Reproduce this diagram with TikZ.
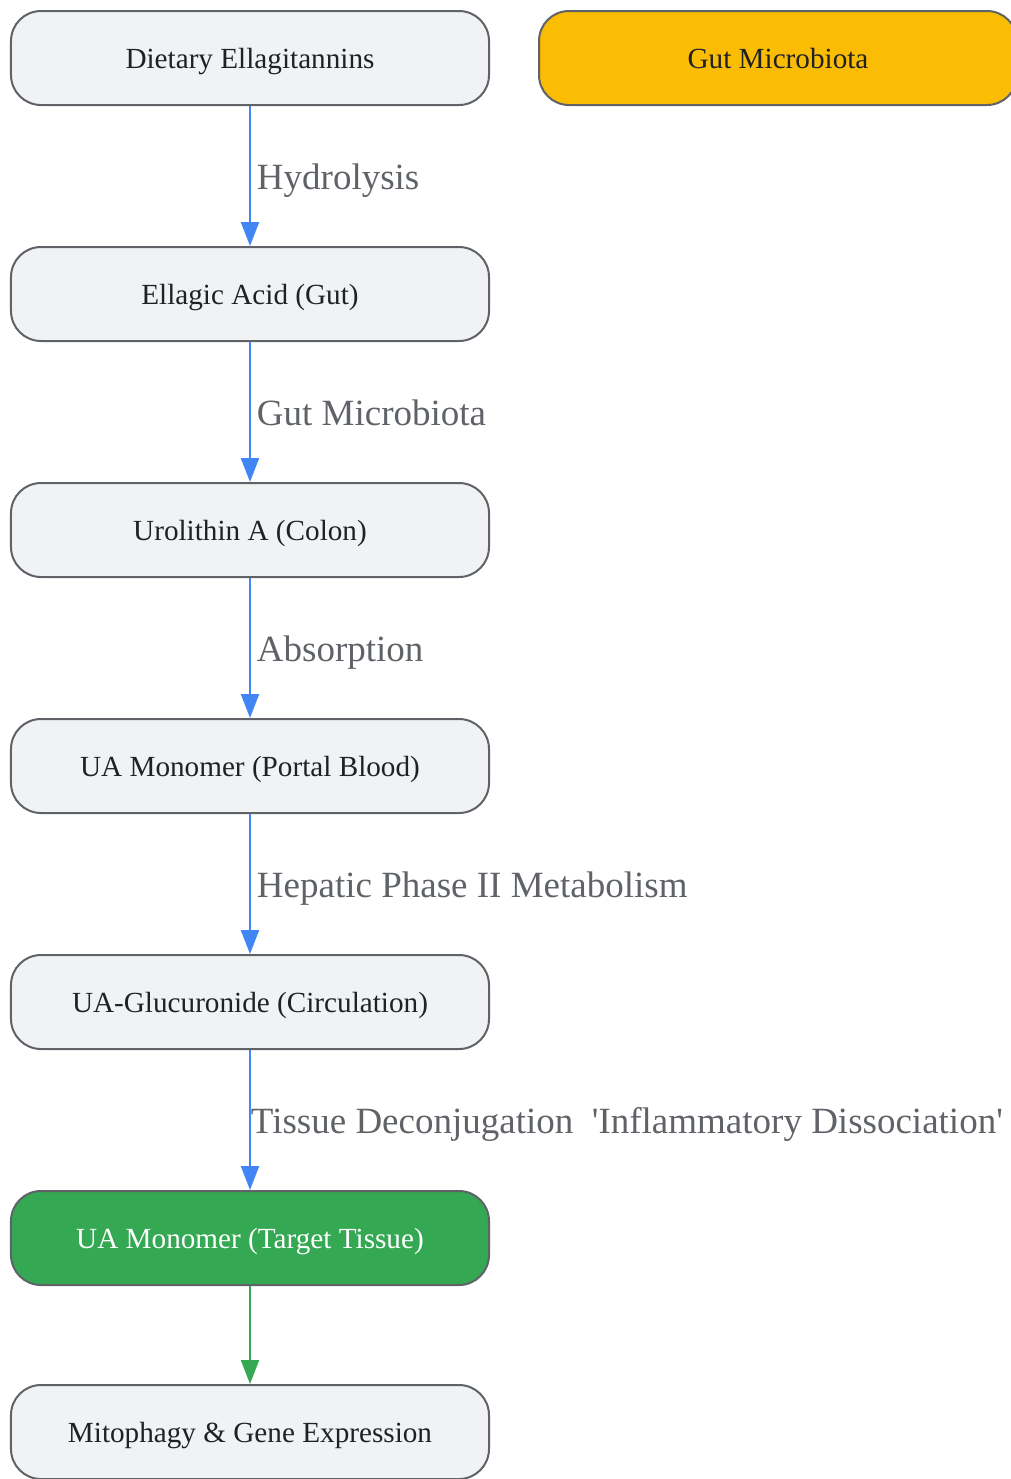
\documentclass[tikz,border=0pt]{standalone}
\usepackage{fontspec}
\setmainfont{Liberation Serif}
\definecolor{boxgray}{RGB}{241, 242, 244}
\definecolor{edgegray}{RGB}{95, 99, 104}
\definecolor{textdark}{RGB}{32, 33, 36}
\definecolor{yellow1}{RGB}{251, 188, 4}
\definecolor{green1}{RGB}{52, 168, 83}
\definecolor{blue1}{RGB}{66, 133, 244}
\usetikzlibrary{shapes, arrows.meta, positioning, calc}

\begin{document}
\begin{tikzpicture}[
  stage/.style={draw=edgegray, line width=1pt, fill=boxgray, rounded corners=15pt, minimum width=239pt, minimum height=47pt, text height=13pt, text depth=2.3pt, text=textdark, font=\fontsize{14.6}{17}\selectfont},
  flow/.style={draw=blue1, line width=1pt, -{Triangle[length=12pt, width=9pt]}},
  steplabel/.style={anchor=base west, text=edgegray, font=\fontsize{18.5}{22}\selectfont, inner sep=0pt, xshift=3pt, yshift=-6.65pt}
]
  \useasboundingbox (-125pt,29pt) rectangle (380.5pt,-710.5pt);

  \node[stage] (diet) at (0,0) {Dietary Ellagitannins};
  \node[stage, fill=yellow1, right=24pt of diet] (microbes) {Gut Microbiota};
  \node[stage, below=70pt of diet] (ellagic) {Ellagic Acid (Gut)};
  \node[stage, below=70pt of ellagic] (colon) {Urolithin A (Colon)};
  \node[stage, below=70pt of colon] (portal) {UA Monomer (Portal Blood)};
  \node[stage, below=70pt of portal] (glucuronide) {UA-Glucuronide (Circulation)};
  \node[stage, fill=green1, text=white, below=70pt of glucuronide] (tissue) {UA Monomer (Target Tissue)};
  \node[stage, below=49pt of tissue] (mitophagy) {Mitophagy \& Gene Expression};

  \draw[flow] (diet) -- node[steplabel] {Hydrolysis} (ellagic);
  \draw[flow] (ellagic) -- node[steplabel] {Gut Microbiota} (colon);
  \draw[flow] (colon) -- node[steplabel] {Absorption} (portal);
  \draw[flow] (portal) -- node[steplabel] {Hepatic Phase II Metabolism} (glucuronide);
  \draw[flow] (glucuronide) -- node[steplabel, xshift=-3pt] {Tissue Deconjugation\ \ \textquotesingle Inflammatory Dissociation\textquotesingle} (tissue);
  \draw[flow, draw=green1] (tissue) -- (mitophagy);
\end{tikzpicture}
\end{document}
